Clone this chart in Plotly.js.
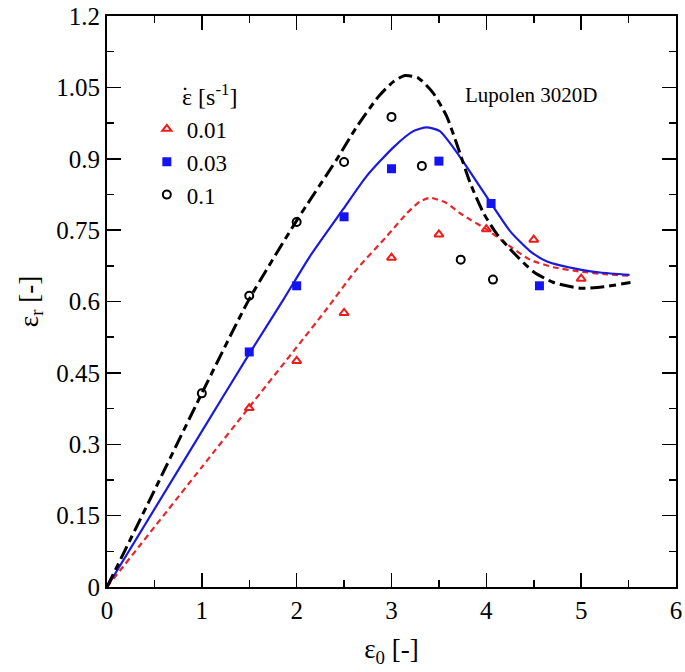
<!DOCTYPE html>
<html>
<head>
<meta charset="utf-8">
<script src="https://cdn.plot.ly/plotly-3.0.1.min.js"></script>
<style>
  html, body { margin: 0; padding: 0; background: #ffffff; }
  #chart { width: 685px; height: 672px; }
</style>
</head>
<body>
<div id="chart"></div>
<script>
// measured points (markers), one list per strain rate
const rate001X = [1.5, 2, 2.5, 3, 3.5, 4, 4.5, 5];
const rate001Y = [0.376, 0.475, 0.576, 0.692, 0.741, 0.752, 0.730, 0.648];

const rate003X = [1.5, 2, 2.5, 3, 3.5, 4.05, 4.56];
const rate003Y = [0.494, 0.633, 0.778, 0.879, 0.895, 0.806, 0.633];

const rate01X = [1, 1.5, 2, 2.5, 3, 3.32, 3.73, 4.07];
const rate01Y = [0.407, 0.612, 0.767, 0.893, 0.988, 0.885, 0.688, 0.646];

// model curves
const fit01X = [0, 0.5, 1, 1.5, 2, 2.42, 2.63, 2.86, 3.02, 3.14, 3.28, 3.44, 3.58, 3.69, 3.83, 3.97, 4.11, 4.29, 4.5, 4.71, 4.99, 5.24, 5.52];
const fit01Y = [0, 0.203, 0.407, 0.605, 0.77, 0.898, 0.966, 1.03, 1.062, 1.075, 1.07, 1.038, 0.99, 0.93, 0.849, 0.786, 0.742, 0.702, 0.662, 0.64, 0.628, 0.631, 0.64];

const fit003X = [0, 1, 1.5, 1.86, 2.14, 2.49, 2.74, 3.02, 3.23, 3.37, 3.51, 3.65, 3.79, 4.05, 4.25, 4.46, 4.64, 4.99, 5.2, 5.51];
const fit003Y = [0, 0.327, 0.49, 0.604, 0.695, 0.794, 0.864, 0.924, 0.958, 0.966, 0.958, 0.924, 0.884, 0.806, 0.748, 0.706, 0.684, 0.667, 0.661, 0.656];

const fit001X = [0, 1, 1.5, 2, 2.3, 2.63, 2.95, 3.16, 3.3, 3.41, 3.58, 3.72, 3.83, 4, 4.25, 4.46, 4.71, 4.99, 5.27, 5.51];
const fit001Y = [0, 0.252, 0.378, 0.504, 0.58, 0.667, 0.737, 0.785, 0.81, 0.818, 0.807, 0.786, 0.772, 0.752, 0.716, 0.688, 0.672, 0.663, 0.657, 0.654];

const legendNames = ['0.01', '0.03', '0.1'];
const legendTitle = 'ε [s<sup>-1</sup>]';
const legendDot = '˙';
const sampleLabel = 'Lupolen 3020D';

const FONT = 'Liberation Serif';

const traces = [
  {
    x: fit001X, y: fit001Y, type: 'scatter', mode: 'lines', showlegend: false,
    line: { color: '#e8262a', width: 2.2, dash: '6px,4px', shape: 'spline', smoothing: 0.6 },
    hoverinfo: 'none'
  },
  {
    x: fit003X, y: fit003Y, type: 'scatter', mode: 'lines', showlegend: false,
    line: { color: '#1a1adc', width: 2.2, shape: 'spline', smoothing: 0.6 },
    hoverinfo: 'none'
  },
  {
    x: fit01X, y: fit01Y, type: 'scatter', mode: 'lines', showlegend: false,
    line: { color: '#000000', width: 3, dash: '14px,5px,7px,5px', shape: 'spline', smoothing: 0.6 },
    hoverinfo: 'none'
  },
  {
    x: rate001X, y: rate001Y, type: 'scatter', mode: 'markers', name: legendNames[0],
    marker: { symbol: 'triangle-up-open', color: '#ee1c1c', size: 8, line: { color: '#ee1c1c', width: 2 } }
  },
  {
    x: rate003X, y: rate003Y, type: 'scatter', mode: 'markers', name: legendNames[1],
    marker: { symbol: 'square', color: '#1414f0', size: 9 }
  },
  {
    x: rate01X, y: rate01Y, type: 'scatter', mode: 'markers', name: legendNames[2],
    marker: { symbol: 'circle-open', color: '#000000', size: 8, line: { color: '#000000', width: 2 } }
  }
];

const axisCommon = {
  showline: true,
  linecolor: '#000000',
  linewidth: 2,
  mirror: 'ticks',
  ticks: 'inside',
  ticklen: 14,
  tickwidth: 1.5,
  tickcolor: '#000000',
  showgrid: false,
  zeroline: false,
  tickfont: { family: FONT, size: 25, color: '#000000' }
};

const layout = {
  width: 685,
  height: 672,
  margin: { l: 107, r: 9, t: 16, b: 85 },
  paper_bgcolor: '#ffffff',
  plot_bgcolor: '#ffffff',
  font: { family: FONT, color: '#000000', size: 24 },
  xaxis: Object.assign({}, axisCommon, {
    range: [0, 6],
    dtick: 1,
    minor: { dtick: 0.5, ticks: 'inside', ticklen: 7, tickwidth: 1.5, tickcolor: '#000000' },
    title: { text: 'ε<sub>0</sub> [-]', font: { family: FONT, size: 27 }, standoff: 16 }
  }),
  yaxis: Object.assign({}, axisCommon, {
    range: [0, 1.2],
    dtick: 0.15,
    minor: { dtick: 0.075, ticks: 'inside', ticklen: 7, tickwidth: 1.5, tickcolor: '#000000' },
    title: { text: 'ε<sub>r</sub> [-]', font: { family: FONT, size: 27 }, standoff: 10 }
  }),
  showlegend: true,
  legend: {
    x: 0.07,
    y: 0.84,
    xanchor: 'left',
    yanchor: 'top',
    bgcolor: 'rgba(0,0,0,0)',
    font: { family: FONT, size: 23, color: '#000000' },
    tracegroupgap: 0,
    itemwidth: 30
  },
  annotations: [
    {
      x: 0.128, y: 0.862, xref: 'paper', yref: 'paper', xanchor: 'left', yanchor: 'middle',
      text: legendTitle, showarrow: false,
      font: { family: FONT, size: 24, color: '#000000' }
    },
    {
      x: 0.137, y: 0.862, xref: 'paper', yref: 'paper', xanchor: 'center', yanchor: 'middle',
      text: legendDot, showarrow: false,
      font: { family: FONT, size: 24, color: '#000000' }
    },
    {
      x: 0.745, y: 0.862, xref: 'paper', yref: 'paper', xanchor: 'center', yanchor: 'middle',
      text: sampleLabel, showarrow: false,
      font: { family: FONT, size: 21, color: '#000000' }
    }
  ]
};

Plotly.newPlot('chart', traces, layout, { displayModeBar: false, staticPlot: true });
</script>
</body>
</html>
